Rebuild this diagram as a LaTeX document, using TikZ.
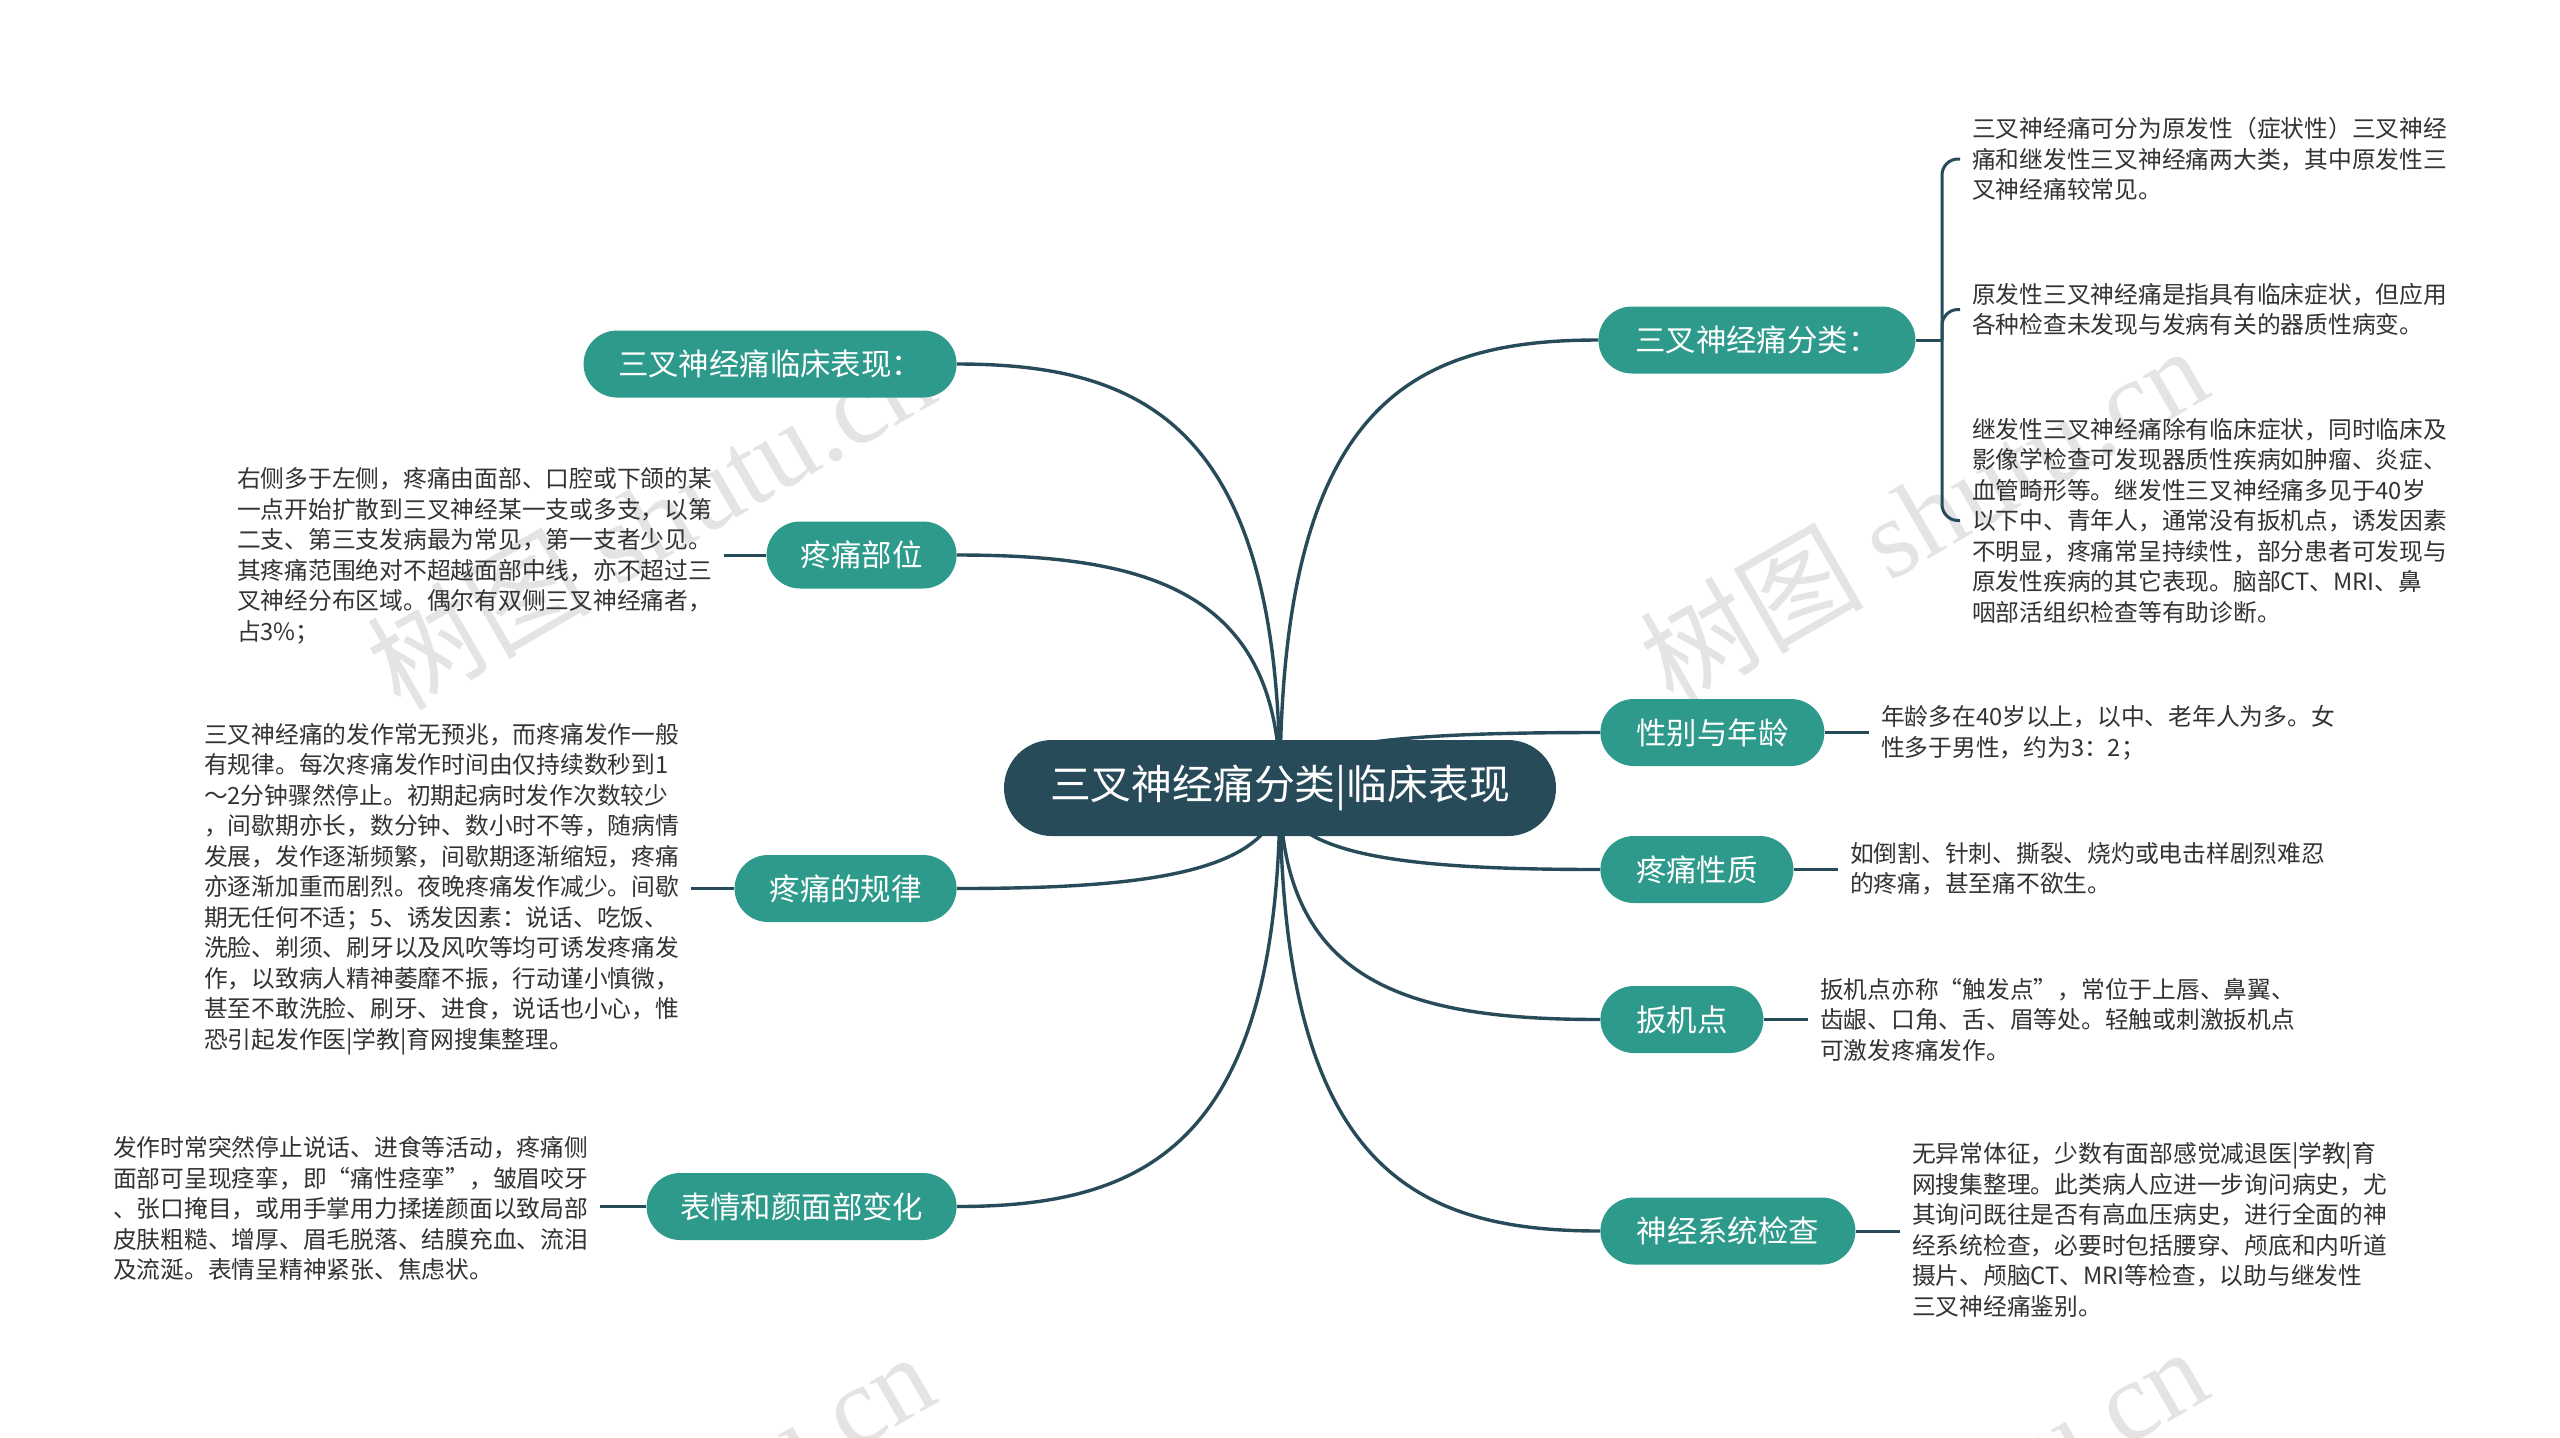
\documentclass[tikz,border=0pt]{standalone}
\usepackage{fontspec}
\setmainfont{Noto Sans CJK SC}
\newfontfamily\wmfont{Liberation Serif}
\usetikzlibrary{backgrounds}
\definecolor{rootc}{HTML}{284B5A}
\definecolor{branchc}{HTML}{2E9A8B}
\definecolor{linec}{HTML}{284B5A}
\definecolor{leaftext}{HTML}{333333}
\definecolor{wmc}{HTML}{E4E4E4}
\begin{document}
\begin{tikzpicture}[x=0.5pt,y=-0.5pt,
  rootnode/.style={fill=rootc, text=white, rounded corners=24pt, minimum height=48pt, minimum width=276pt, inner sep=0pt, font=\fontsize{20.4pt}{24pt}\selectfont},
  branch/.style={fill=branchc, text=white, rounded corners=16.75pt, minimum height=33.5pt, inner sep=0pt, font=\fontsize{15.2pt}{18pt}\selectfont},
  leaf/.style={anchor=west, align=left, inner sep=0pt, outer xsep=6pt, text=leaftext, font=\fontsize{11.875pt}{15.25pt}\selectfont},
  conn/.style={draw=linec, line width=1.7pt},
  thinconn/.style={draw=linec, line width=1.5pt},
  wm/.style={text=wmc, rotate=30, inner sep=0pt, font=\fontsize{56pt}{60pt}\selectfont}
]
\useasboundingbox (0,0) rectangle (2560,1437);

% root
\node[rootnode] (root) at (1280,788) {三叉神经痛分类|临床表现};

% left branches
\node[branch, anchor=east, minimum width=186.5pt] (L1) at (957,364) {三叉神经痛临床表现：};
\node[branch, anchor=east, minimum width=95pt] (L2) at (957,555) {疼痛部位};
\node[branch, anchor=east, minimum width=111pt] (L3) at (957,888.5) {疼痛的规律};
\node[branch, anchor=east, minimum width=155pt] (L4) at (957,1206.5) {表情和颜面部变化};

% right branches
\node[branch, anchor=west, minimum width=158.5pt] (R1) at (1598,340) {三叉神经痛分类：};
\node[branch, anchor=west, minimum width=112pt] (R2) at (1600,732.5) {性别与年龄};
\node[branch, anchor=west, minimum width=96.5pt] (R3) at (1600,869.5) {疼痛性质};
\node[branch, anchor=west, minimum width=81.5pt] (R4) at (1600,1019.5) {扳机点};
\node[branch, anchor=west, minimum width=127.5pt] (R5) at (1600,1231) {神经系统检查};

% leaf texts
\node[leaf] (R1a) at (1960,159) {三叉神经痛可分为原发性（症状性）三叉神经\\痛和继发性三叉神经痛两大类，其中原发性三\\叉神经痛较常见。};
\node[leaf] (R1b) at (1960,309.5) {原发性三叉神经痛是指具有临床症状，但应用\\各种检查未发现与发病有关的器质性病变。};
\node[leaf] (R1c) at (1960,520.5) {继发性三叉神经痛除有临床症状，同时临床及\\影像学检查可发现器质性疾病如肿瘤、炎症、\\血管畸形等。继发性三叉神经痛多见于40岁\\以下中、青年人，通常没有扳机点，诱发因素\\不明显，疼痛常呈持续性，部分患者可发现与\\原发性疾病的其它表现。脑部CT、MRI、鼻\\咽部活组织检查等有助诊断。};
\node[leaf] (R2t) at (1869,733) {年龄多在40岁以上，以中、老年人为多。女\\性多于男性，约为3：2；};
\node[leaf] (R3t) at (1838,868.5) {如倒割、针刺、撕裂、烧灼或电击样剧烈难忍\\的疼痛，甚至痛不欲生。};
\node[leaf] (R4t) at (1808,1019.5) {扳机点亦称“触发点”，常位于上唇、鼻翼、\\齿龈、口角、舌、眉等处。轻触或刺激扳机点\\可激发疼痛发作。};
\node[leaf] (R5t) at (1900,1230) {无异常体征，少数有面部感觉减退医|学教|育\\网搜集整理。此类病人应进一步询问病史，尤\\其询问既往是否有高血压病史，进行全面的神\\经系统检查，必要时包括腰穿、颅底和内听道\\摄片、颅脑CT、MRI等检查，以助与继发性\\三叉神经痛鉴别。};
\node[leaf] (L2t) at (225,556) {右侧多于左侧，疼痛由面部、口腔或下颌的某\\一点开始扩散到三叉神经某一支或多支，以第\\二支、第三支发病最为常见，第一支者少见。\\其疼痛范围绝对不超越面部中线，亦不超过三\\叉神经分布区域。偶尔有双侧三叉神经痛者，\\占3\%；};
\node[leaf] (L3t) at (192,889) {三叉神经痛的发作常无预兆，而疼痛发作一般\\有规律。每次疼痛发作时间由仅持续数秒到1\\～2分钟骤然停止。初期起病时发作次数较少\\，间歇期亦长，数分钟、数小时不等，随病情\\发展，发作逐渐频繁，间歇期逐渐缩短，疼痛\\亦逐渐加重而剧烈。夜晚疼痛发作减少。间歇\\期无任何不适；5、诱发因素：说话、吃饭、\\洗脸、剃须、刷牙以及风吹等均可诱发疼痛发\\作，以致病人精神萎靡不振，行动谨小慎微，\\甚至不敢洗脸、刷牙、进食，说话也小心，惟\\恐引起发作医|学教|育网搜集整理。};
\node[leaf] (L4t) at (101,1208.5) {发作时常突然停止说话、进食等活动，疼痛侧\\面部可呈现痉挛，即“痛性痉挛”，皱眉咬牙\\、张口掩目，或用手掌用力揉搓颜面以致局部\\皮肤粗糙、增厚、眉毛脱落、结膜充血、流泪\\及流涎。表情呈精神紧张、焦虑状。};

\coordinate (rb) at (1942,340);

\begin{scope}[on background layer]
  \fill[white] (0,0) rectangle (2560,1437);
  % watermarks
  \node[wm] (wm1) at (650,519) {树图 {\wmfont shutu.cn}};
  \node[wm] (wm2) at (1923,514) {树图 {\wmfont shutu.cn}};
  \node[wm] (wm3) at (650,1520) {树图 {\wmfont shutu.cn}};
  \node[wm] (wm4) at (1923,1515) {树图 {\wmfont shutu.cn}};
  % root connectors
  \draw[conn] (root.center) .. controls +(0,-360) and +(190,0) .. (L1.east);
  \draw[conn] (root.center) .. controls +(0,-198) and +(190,0) .. (L2.east);
  \draw[conn] (root.center) .. controls +(0,85) and +(190,0) .. (L3.east);
  \draw[conn] (root.center) .. controls +(0,356) and +(190,0) .. (L4.east);
  \draw[conn] (root.center) .. controls +(0,-381) and +(-190,0) .. (R1.west);
  \draw[conn] (root.center) .. controls +(0,-47) and +(-190,0) .. (R2.west);
  \draw[conn] (root.center) .. controls +(0,69) and +(-190,0) .. (R3.west);
  \draw[conn] (root.center) .. controls +(0,197) and +(-190,0) .. (R4.west);
  \draw[conn] (root.center) .. controls +(0,377) and +(-190,0) .. (R5.west);
  % branch to leaf
  \draw[thinconn] (R1.east) -- (rb);
  \draw[thinconn, rounded corners=8pt] (rb) |- (R1a.west);
  \draw[thinconn, rounded corners=8pt] (rb) |- (R1b.west);
  \draw[thinconn, rounded corners=8pt] (rb) |- (R1c.west);
  \draw[thinconn] (R2.east) -- (R2t.west |- R2.east);
  \draw[thinconn] (R3.east) -- (R3t.west |- R3.east);
  \draw[thinconn] (R4.east) -- (R4t.west |- R4.east);
  \draw[thinconn] (R5.east) -- (R5t.west |- R5.east);
  \draw[thinconn] (L2.west) -- (L2t.east |- L2.west);
  \draw[thinconn] (L3.west) -- (L3t.east |- L3.west);
  \draw[thinconn] (L4.west) -- (L4t.east |- L4.west);
\end{scope}
\end{tikzpicture}
\end{document}
